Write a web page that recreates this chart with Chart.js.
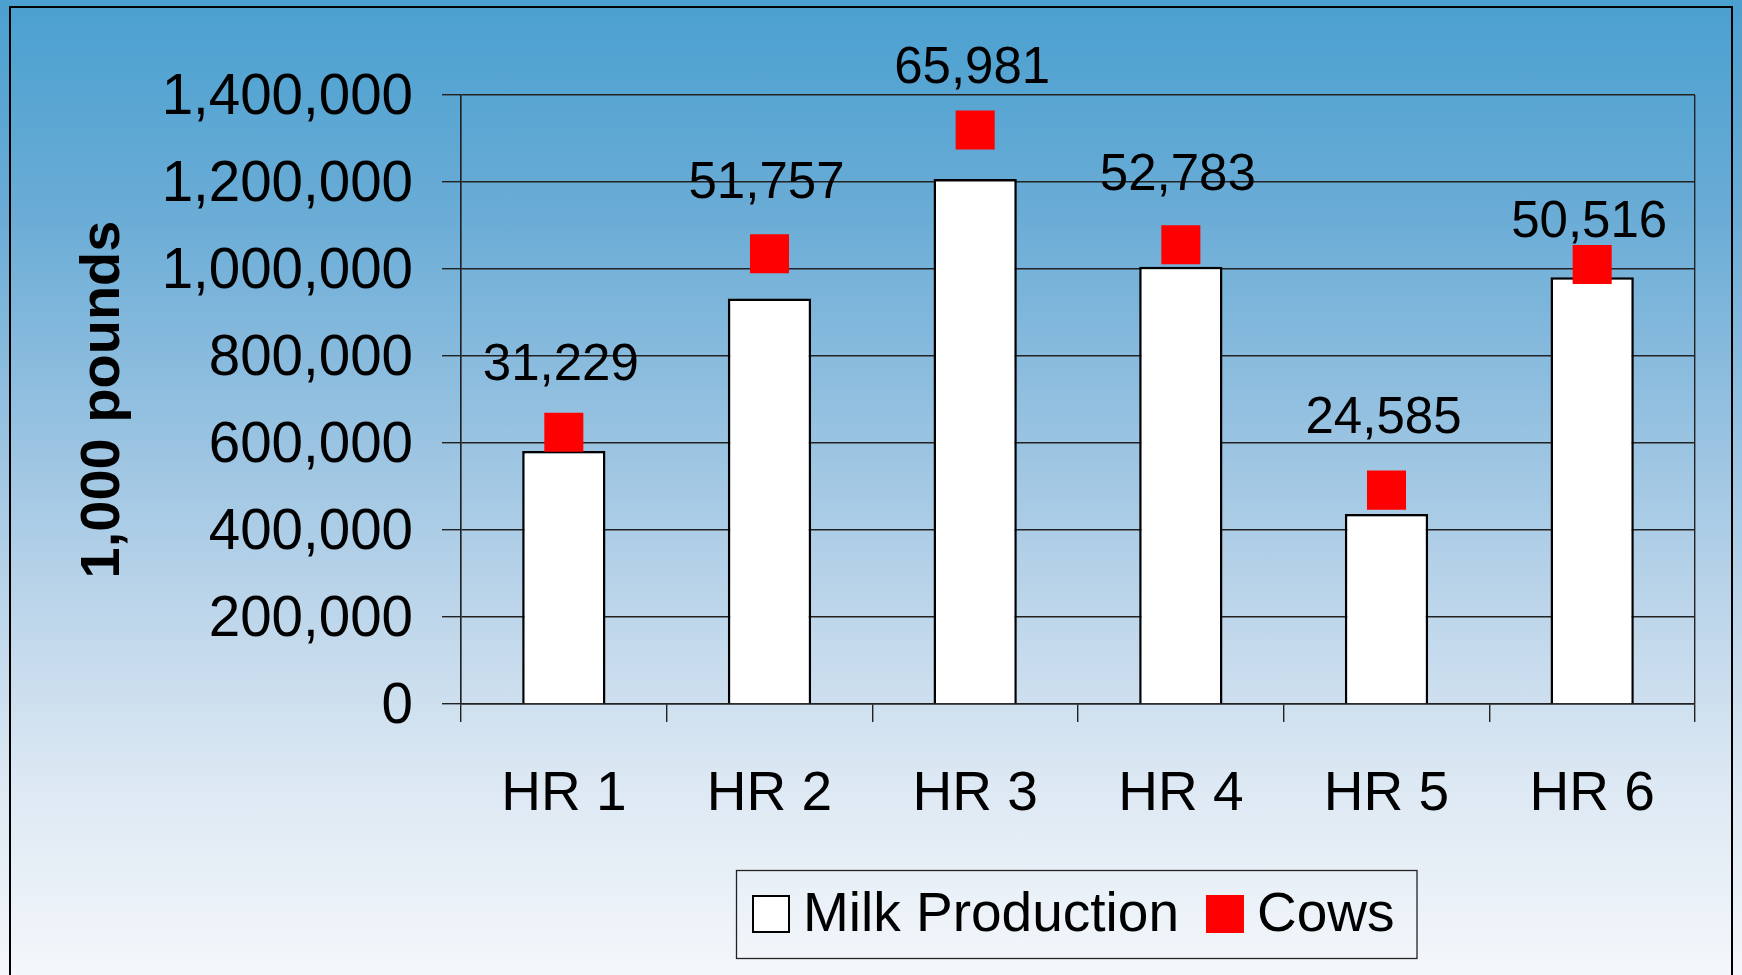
<!DOCTYPE html>
<html lang="en">
<head>
    <meta charset="UTF-8">
    <title>Milk Production and Cows</title>
    <script src="https://cdn.jsdelivr.net/npm/chart.js@4.4.0/dist/chart.umd.min.js"></script>
    <style>
        html, body { margin: 0; padding: 0; }
        body {
            width: 1742px; height: 975px; overflow: hidden; position: relative;
            background: linear-gradient(to bottom, #4aa0d0 0%, #6aacd6 22%, #93c0e0 42%, #bcd5ea 62%, #dce8f3 80%, #f4f7fb 100%);
        }
        .frame {
            position: absolute; left: 9px; top: 6px; width: 1724px; height: 1100px;
            border: 2px solid #000; box-sizing: border-box;
        }
        .chart-container { position: absolute; left: 0; top: 0; width: 1742px; height: 975px; }
    </style>
</head>
<body>
    <div class="frame"></div>
    <div class="chart-container">
        <canvas id="milkChart"></canvas>
    </div>

    <script>
        const regions = ['HR 1', 'HR 2', 'HR 3', 'HR 4', 'HR 5', 'HR 6'];
        const milkProduction = [581600, 932000, 1207000, 1005000, 437000, 981000];
        const cows = [31229, 51757, 65981, 52783, 24585, 50516];
        const poundTicks = [0, 200000, 400000, 600000, 800000, 1000000, 1200000, 1400000];

        const FONT = "'Liberation Sans', Arial, sans-serif";
        const fmt = v => v.toLocaleString('en-US');

        // labels over the red squares (they sit at uneven heights in the original)
        const labelLift = [52, 56, 47, 55, 57, 28];

        const cowLabels = {
            id: 'cowLabels',
            afterDatasetsDraw(chart) {
                const ctx = chart.ctx;
                const meta = chart.getDatasetMeta(1);
                ctx.save();
                ctx.font = `51px ${FONT}`;
                ctx.fillStyle = '#000';
                ctx.textAlign = 'center';
                ctx.textBaseline = 'alphabetic';
                meta.data.forEach((pt, i) => {
                    ctx.fillText(fmt(cows[i]), pt.x - 3, pt.y - labelLift[i]);
                });
                ctx.restore();
            }
        };

        // boxed legend under the axis, like the spreadsheet one
        const boxLegend = {
            id: 'boxLegend',
            afterDraw(chart) {
                const ctx = chart.ctx;
                const area = chart.chartArea;
                const items = chart.data.datasets.map(ds => ({
                    text: ds.label,
                    fill: ds.backgroundColor,
                    stroke: ds.type === 'line' ? null : ds.borderColor
                }));
                ctx.save();
                ctx.font = `55px ${FONT}`;
                const sw = 38, gapIn = 13, gapOut = 27, padL = 16, padR = 22, h = 88;
                let w = padL + padR;
                items.forEach((it, i) => {
                    it.w = ctx.measureText(it.text).width;
                    w += sw + gapIn + it.w + (i < items.length - 1 ? gapOut : 0);
                });
                const left = Math.round((area.left + area.right) / 2 - w / 2) - 2;
                const top = area.bottom + 166;
                ctx.strokeStyle = '#222';
                ctx.lineWidth = 1.3;
                ctx.strokeRect(left + 0.5, top + 0.5, w, h);
                const cy = top + h / 2;
                let x = left + padL;
                ctx.textBaseline = 'middle';
                ctx.textAlign = 'left';
                items.forEach(it => {
                    ctx.fillStyle = it.fill;
                    ctx.fillRect(x, cy - sw / 2, sw, sw);
                    if (it.stroke) {
                        ctx.strokeStyle = it.stroke;
                        ctx.lineWidth = 2;
                        ctx.strokeRect(x + 1, cy - sw / 2 + 1, sw - 2, sw - 2);
                    }
                    x += sw + gapIn;
                    ctx.fillStyle = '#000';
                    ctx.fillText(it.text, x, cy + 2);
                    x += it.w + gapOut;
                });
                ctx.restore();
            }
        };

        const ctx = document.getElementById('milkChart').getContext('2d');
        new Chart(ctx, {
            type: 'bar',
            data: {
                labels: regions,
                datasets: [{
                    label: 'Milk Production',
                    data: milkProduction,
                    backgroundColor: '#ffffff',
                    borderColor: '#000000',
                    borderWidth: 2.5,
                    categoryPercentage: 1,
                    barPercentage: 0.405,
                    yAxisID: 'y',
                    order: 1
                }, {
                    type: 'line',
                    label: 'Cows',
                    data: cows,
                    showLine: false,
                    pointStyle: 'rect',
                    pointRadius: 27.6,
                    pointHoverRadius: 27.6,
                    pointBorderWidth: 0,
                    backgroundColor: '#ff0000',
                    borderColor: '#ff0000',
                    yAxisID: 'y2',
                    order: 0
                }]
            },
            options: {
                responsive: true,
                maintainAspectRatio: false,
                animation: false,
                layout: { padding: { left: 0, right: 47, top: 95, bottom: 0 } },
                plugins: {
                    legend: { display: false },
                    tooltip: { enabled: false }
                },
                scales: {
                    x: {
                        offset: true,
                        grid: {
                            offset: true,
                            color: c => (c.type === 'tick' && c.index > 0) ? 'rgba(0,0,0,0)' : '#222',
                            tickColor: '#222',
                            tickLength: 18,
                            lineWidth: 1.4
                        },
                        border: { display: true, color: '#222', width: 1.4 },
                        ticks: {
                            font: { family: FONT, size: 55 },
                            color: '#000',
                            padding: 40
                        },
                        afterFit: s => { s.height = 271; }
                    },
                    y: {
                        min: 0,
                        max: 1400000,
                        afterBuildTicks: s => { s.ticks = poundTicks.map(v => ({ value: v })); },
                        ticks: {
                            font: { family: FONT, size: 56.5 },
                            color: '#000',
                            padding: 29,
                            labelOffset: 3,
                            callback: v => fmt(v)
                        },
                        grid: { color: '#222', tickColor: '#222', tickLength: 19, lineWidth: 1.4 },
                        border: { display: true, color: '#222', width: 1.4 },
                        title: {
                            display: true,
                            text: '1,000 pounds',
                            color: '#000',
                            font: { family: FONT, size: 56, weight: 'bold' },
                            padding: { top: 70, bottom: 0 }
                        },
                        afterFit: s => { s.width = 461; }
                    },
                    y2: {
                        display: false,
                        position: 'right',
                        min: 0,
                        max: 70000
                    }
                }
            },
            plugins: [cowLabels, boxLegend]
        });
    </script>
</body>
</html>
